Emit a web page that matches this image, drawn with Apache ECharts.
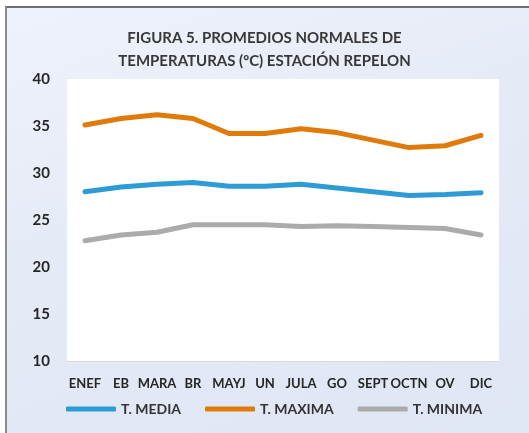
<!DOCTYPE html>
<html>
<head>
<meta charset="utf-8">
<script src="https://cdn.jsdelivr.net/npm/echarts@6/dist/echarts.min.js"></script>
<style>
  html, body { margin: 0; padding: 0; background: #fff; }
  #frame {
    position: absolute; left: 5px; top: 6px; width: 540px; height: 440px;
    border-left: 2px solid #8c8c8c; border-top: 2px solid #6e6e6e;
    background: linear-gradient(160deg, #eef2fa 0%, #e4eaf6 45%, #dfe6f4 100%);
  }
  #chart { position: absolute; left: 0; top: 0; width: 529px; height: 433px; }
</style>
</head>
<body>
<div id="frame"></div>
<div id="chart"></div>
<script>
const months = ["ENEF", "EB", "MARA", "BR", "MAYJ", "UN", "JULA", "GO", "SEPT", "OCTN", "OV", "DIC"];
const tMedia = [28.0, 28.5, 28.8, 29.0, 28.6, 28.6, 28.8, 28.4, 28.0, 27.6, 27.7, 27.9];
const tMaxima = [35.1, 35.8, 36.2, 35.8, 34.2, 34.2, 34.7, 34.3, 33.5, 32.7, 32.9, 34.0];
const tMinima = [22.8, 23.4, 23.7, 24.5, 24.5, 24.5, 24.3, 24.4, 24.3, 24.2, 24.1, 23.4];

const font = "Lato";
const chart = echarts.init(document.getElementById("chart"));

chart.setOption({
  backgroundColor: "transparent",
  title: {
    text: "FIGURA 5. PROMEDIOS NORMALES DE\nTEMPERATURAS (ºC) ESTACIÓN REPELON",
    left: "center",
    top: 22,
    textStyle: { fontFamily: font, fontSize: 15, fontWeight: "bold", color: "#383838", lineHeight: 23 }
  },
  grid: {
    left: 67, right: 30, top: 79, bottom: 72,
    show: true, backgroundColor: "#ffffff", borderWidth: 0
  },
  legend: {
    left: 61, bottom: 12,
    icon: "roundRect", itemWidth: 50, itemHeight: 5, itemGap: 24,
    textStyle: { fontFamily: font, fontSize: 14, fontWeight: "bold", color: "#333" },
    data: ["T. MEDIA", "T. MAXIMA", "T. MINIMA"]
  },
  xAxis: {
    type: "category",
    data: months,
    boundaryGap: true,
    axisLine: { lineStyle: { color: "#d9d9d9", width: 1 } },
    axisTick: { show: false },
    axisLabel: { fontFamily: font, fontSize: 13, fontWeight: "bold", color: "#262626", margin: 16, interval: 0 }
  },
  yAxis: {
    type: "value",
    min: 10, max: 40, interval: 5,
    splitLine: { show: false },
    axisLine: { show: false },
    axisTick: { show: false },
    axisLabel: { fontFamily: font, fontSize: 15, fontWeight: "bold", color: "#262626", margin: 17 }
  },
  series: [
    { name: "T. MEDIA", type: "line", data: tMedia, symbol: "none", color: "#2d9bd6",
      lineStyle: { width: 5, cap: "round", join: "round" } },
    { name: "T. MAXIMA", type: "line", data: tMaxima, symbol: "none", color: "#e07a0b",
      lineStyle: { width: 5, cap: "round", join: "round" } },
    { name: "T. MINIMA", type: "line", data: tMinima, symbol: "none", color: "#ababab",
      lineStyle: { width: 5, cap: "round", join: "round" } }
  ]
});
</script>
</body>
</html>
